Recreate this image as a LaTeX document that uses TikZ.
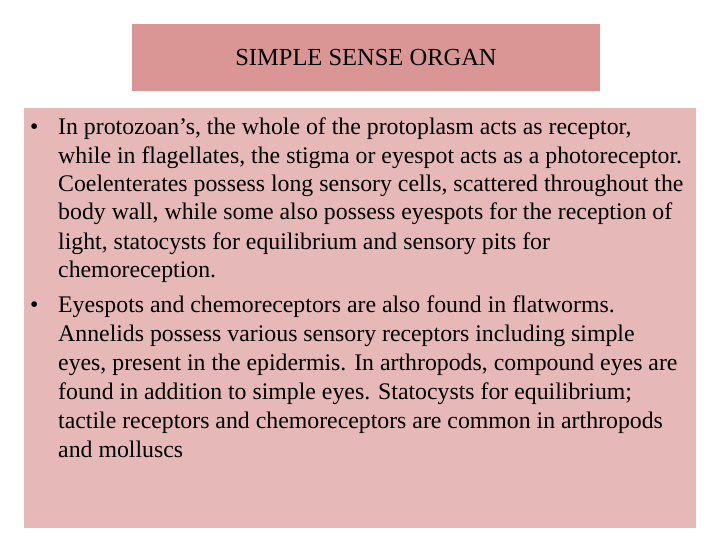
\documentclass[tikz,border=0pt]{standalone}
\usepackage{fontspec}
\setmainfont{Liberation Serif}
\begin{document}
\begin{tikzpicture}[x=1pt,y=-1pt,
  ln/.style={anchor=base west,inner sep=0pt,font=\fontsize{23.8}{26}\selectfont},
  bul/.style={anchor=base west,inner sep=0pt,font=\fontsize{23.8}{26}\selectfont}]
\useasboundingbox (0,0) rectangle (720,540);
\fill[white] (0,0) rectangle (720,540);
\node[fill={rgb,255:red,217;green,150;blue,148},minimum width=468pt,minimum height=67pt,inner sep=0pt,
  font=\fontsize{24.5}{26}\selectfont] (title) at (366,57.5) {SIMPLE SENSE ORGAN};
\node[fill={rgb,255:red,230;green,185;blue,184},minimum width=672pt,minimum height=420pt,inner sep=0pt] (body) at (360,318) {};
\node[bul] (b1) at (30,135) {•};
\node[ln] (l1) at (58,135) {In protozoan\char"0027 s, the whole of the protoplasm acts as receptor,};
\node[ln] (l2) at (58,164) {while in flagellates, the stigma or eyespot acts as a photoreceptor.};
\node[ln] (l3) at (58,192) {Coelenterates possess long sensory cells, scattered throughout the};
\node[ln] (l4) at (58,220) {body wall, while some also possess eyespots for the reception of};
\node[ln] (l5) at (58,249) {light, statocysts for equilibrium and sensory pits for};
\node[ln] (l6) at (58,277) {chemoreception.};
\node[bul] (b2) at (30,312) {•};
\node[ln] (m1) at (58,312) {Eyespots and chemoreceptors are also found in flatworms.};
\node[ln] (m2) at (58,341) {Annelids possess various sensory receptors including simple};
\node[ln] (m3) at (58,370) {eyes, present in the epidermis. In arthropods, compound eyes are};
\node[ln] (m4) at (58,399) {found in addition to simple eyes. Statocysts for equilibrium;};
\node[ln] (m5) at (58,428) {tactile receptors and chemoreceptors are common in arthropods};
\node[ln] (m6) at (58,457) {and molluscs};
\end{tikzpicture}
\end{document}
